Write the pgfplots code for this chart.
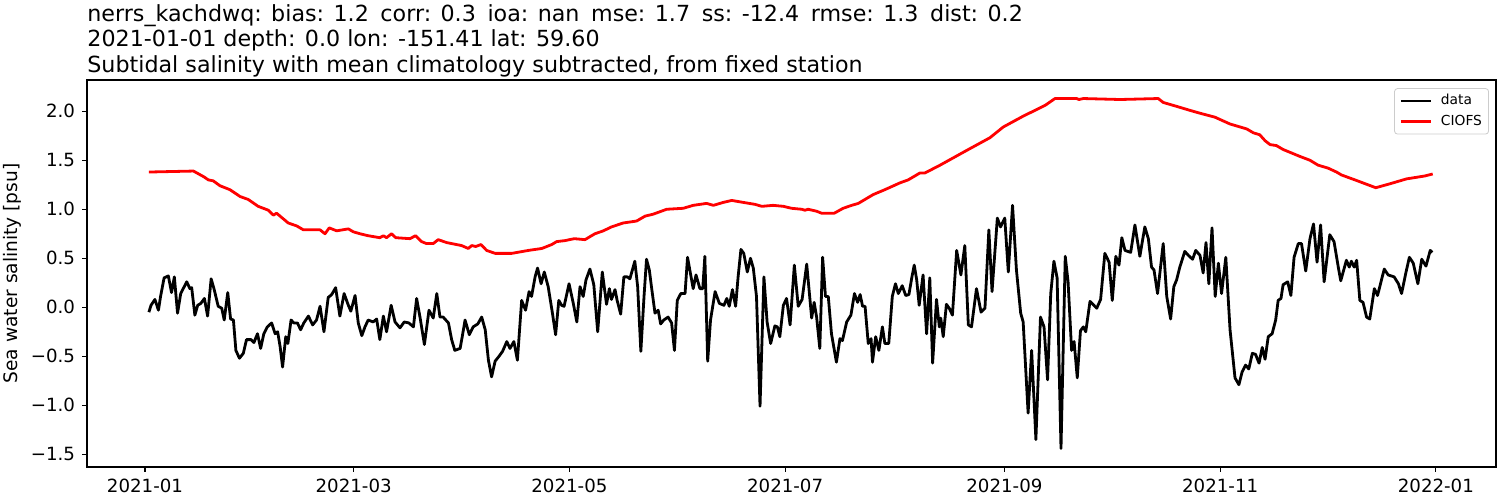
\documentclass[border=0pt]{standalone}
\usepackage{fontspec}
\setmainfont{DejaVu Sans}
\usepackage{pgfplots}
\pgfplotsset{compat=1.18}
\usepackage{pgfplotstable}

\pgfplotstableread{
day val
1.1 -0.05
1.7 0.02
2.8 0.08
3.8 -0.03
4.4 0.11
5.4 0.30
6.6 0.32
7.5 0.15
8.3 0.31
9.2 -0.06
10.1 0.14
11.8 0.26
12.7 0.19
13.2 0.20
14.1 -0.08
14.9 0.02
15.8 0.04
16.8 0.09
17.7 -0.09
18.7 0.29
19.5 0.19
20.7 0.01
21.7 -0.01
22.4 -0.13
23.4 0.15
24.2 -0.12
25.0 -0.13
25.7 -0.44
26.7 -0.52
27.8 -0.47
28.7 -0.33
30.0 -0.33
30.8 -0.36
31.8 -0.27
32.7 -0.42
33.6 -0.27
34.6 -0.20
35.8 -0.16
36.8 -0.27
37.5 -0.25
38.2 -0.40
38.9 -0.61
39.8 -0.30
40.4 -0.37
41.3 -0.13
42.1 -0.16
43.1 -0.16
44.0 -0.23
44.9 -0.16
46.2 -0.09
47.4 -0.18
48.5 -0.13
49.5 0.01
50.6 -0.25
51.8 0.10
52.8 0.13
53.9 0.20
55.1 -0.09
56.3 0.14
57.5 0.02
58.2 -0.04
59.4 0.12
60.3 -0.16
61.3 -0.29
62.2 -0.20
63.1 -0.13
64.5 -0.15
65.5 -0.12
66.4 -0.33
67.4 -0.09
68.3 -0.25
69.6 0.02
70.7 -0.15
72.1 -0.21
73.3 -0.15
74.6 -0.16
75.9 -0.20
76.8 0.09
77.8 -0.11
79.0 -0.38
80.3 -0.03
81.5 -0.11
82.5 0.14
83.4 -0.10
84.3 -0.10
85.8 -0.16
86.7 -0.33
87.6 -0.44
89.1 -0.42
89.7 -0.30
90.5 -0.13
91.7 -0.28
92.8 -0.20
94.1 -0.17
95.2 -0.10
96.2 -0.23
97.1 -0.54
98.0 -0.71
99.0 -0.55
100.1 -0.50
101.1 -0.45
102.3 -0.35
103.2 -0.42
104.3 -0.35
105.3 -0.54
106.5 0.07
107.6 -0.03
108.6 0.16
109.3 0.11
110.3 0.31
111.0 0.40
112.0 0.24
112.9 0.36
114.0 0.21
115.2 -0.06
116.1 -0.28
117.0 0.07
117.8 0.02
118.5 0.01
119.9 0.24
121.1 0.04
122.1 -0.15
123.0 0.21
123.9 0.11
124.7 0.28
125.8 0.39
126.9 0.23
128.0 -0.25
129.3 0.36
130.5 0.03
131.3 0.19
131.9 0.08
132.9 0.18
133.5 0.07
134.5 -0.07
135.4 0.31
136.4 0.31
137.1 0.29
138.5 0.47
139.3 0.21
140.2 -0.45
141.1 0.11
141.8 0.49
142.6 0.38
143.2 0.21
144.2 -0.06
145.1 -0.03
145.8 -0.17
146.7 -0.13
147.9 -0.10
148.9 -0.16
149.7 -0.44
150.5 0.07
151.5 0.14
152.7 0.14
153.4 0.51
154.3 0.33
155.0 0.19
155.8 0.33
156.9 0.19
157.7 0.19
158.3 0.52
159.1 -0.55
159.9 -0.13
161.2 0.16
162.4 0.04
163.7 0.02
164.5 0.09
165.2 0.01
166.1 0.18
167.0 0.01
167.7 0.31
168.5 0.59
169.3 0.55
170.3 0.36
171.2 0.50
172.0 0.40
172.9 0.11
173.9 -1.01
175.0 0.31
175.9 -0.15
176.9 -0.37
178.1 -0.19
178.8 -0.20
179.5 -0.30
180.5 0.02
181.4 0.09
182.4 -0.18
183.6 0.43
184.7 0.01
185.8 0.08
187.1 0.44
188.5 -0.11
189.2 0.05
189.9 -0.10
190.8 -0.42
191.6 0.51
192.4 0.11
193.2 0.11
194.1 -0.27
195.5 -0.56
196.5 -0.32
197.2 -0.34
198.4 -0.15
199.6 -0.08
200.6 0.14
201.5 0.05
202.2 0.13
202.9 0.01
203.6 0.01
204.5 -0.37
205.3 -0.32
205.7 -0.56
206.6 -0.30
207.5 -0.44
208.5 -0.20
209.2 -0.37
210.3 -0.37
211.3 0.11
212.2 0.24
213.0 0.14
214.1 0.22
215.1 0.12
216.0 0.13
216.8 0.30
217.5 0.43
218.2 0.28
218.9 0.02
220.0 0.33
221.0 -0.27
221.9 0.30
222.7 -0.57
223.8 0.08
224.6 -0.20
225.0 -0.11
225.7 -0.30
226.6 0.03
227.4 -0.01
228.3 -0.08
229.5 0.58
230.7 0.33
231.8 0.63
232.8 -0.18
233.7 -0.20
235.1 0.19
236.4 -0.05
237.5 -0.01
238.6 0.79
239.5 0.16
241.0 0.91
241.9 0.82
243.1 0.91
244.1 0.36
245.3 1.04
246.4 0.38
247.6 -0.06
248.3 -0.15
249.7 -1.08
250.7 -0.44
251.9 -1.35
253.2 -0.10
254.2 -0.20
255.2 -0.74
256.1 0.14
257.0 0.47
257.9 0.30
259.0 -1.44
260.2 0.52
261.0 0.26
262.0 -0.44
262.7 -0.35
263.6 -0.72
264.5 -0.24
265.3 -0.20
266.0 -0.25
267.2 0.06
269.1 -0.01
270.2 0.08
271.4 0.55
272.6 0.46
273.5 0.07
274.5 0.52
275.4 0.43
276.2 0.71
277.1 0.58
278.7 0.56
279.9 0.84
281.3 0.52
282.7 0.82
283.7 0.70
284.6 0.41
285.3 0.38
286.3 0.14
287.9 0.65
288.9 0.11
290.0 -0.12
290.9 0.21
291.7 0.28
292.6 0.41
294.0 0.57
295.0 0.53
296.2 0.49
297.1 0.58
298.3 0.53
299.2 0.35
300.0 0.66
300.8 0.24
301.7 0.81
302.6 0.11
303.5 0.45
304.4 0.14
305.6 0.51
306.8 -0.23
308.2 -0.72
309.3 -0.79
310.2 -0.66
311.2 -0.59
312.1 -0.63
313.1 -0.47
314.0 -0.48
315.0 -0.57
315.9 -0.41
316.7 -0.53
317.6 -0.30
318.7 -0.27
319.7 -0.13
320.4 0.07
321.2 0.09
321.8 0.23
323.1 0.26
324.0 0.12
324.9 0.51
326.1 0.65
327.0 0.65
328.2 0.37
329.4 0.70
330.4 0.85
331.4 0.46
332.4 0.84
333.4 0.26
335.0 0.74
336.2 0.67
337.4 0.41
338.1 0.27
339.7 0.48
340.5 0.41
341.1 0.47
341.9 0.41
342.6 0.48
343.5 0.07
344.4 0.05
345.4 -0.10
346.3 -0.12
347.6 0.19
348.5 0.12
350.4 0.39
351.5 0.33
353.2 0.31
354.4 0.24
355.3 0.14
356.5 0.35
357.5 0.51
358.6 0.45
359.9 0.24
361.0 0.49
362.2 0.42
363.4 0.58
364.0 0.56
}\obs

\pgfplotstableread{
day val
1.1 1.38
13.7 1.39
16.7 1.33
17.9 1.30
19.3 1.29
21.2 1.24
24.0 1.20
26.9 1.13
29.2 1.10
32.0 1.03
34.9 0.99
36.3 0.94
37.2 0.96
40.5 0.86
42.9 0.83
44.8 0.79
49.5 0.79
50.9 0.75
52.1 0.81
54.2 0.78
57.5 0.80
58.9 0.77
60.8 0.75
63.1 0.73
66.4 0.71
67.4 0.73
68.3 0.71
69.7 0.75
70.9 0.71
74.9 0.70
76.5 0.73
78.2 0.67
79.6 0.65
81.5 0.65
82.9 0.69
85.3 0.66
89.5 0.63
91.4 0.60
92.4 0.63
93.5 0.62
95.0 0.64
96.6 0.58
99.0 0.55
103.7 0.55
108.4 0.58
112.2 0.60
115.0 0.64
116.4 0.67
118.7 0.68
121.4 0.70
124.4 0.69
127.2 0.75
129.6 0.78
131.9 0.82
135.2 0.86
139.0 0.88
141.4 0.93
143.7 0.95
147.5 1.00
152.2 1.01
155.0 1.04
158.8 1.06
160.7 1.04
163.5 1.07
165.9 1.09
169.2 1.07
172.5 1.05
174.4 1.03
177.6 1.04
180.5 1.03
182.8 1.01
185.7 1.00
186.6 0.99
187.5 1.00
189.9 0.98
191.3 0.96
194.9 0.96
197.4 1.01
199.8 1.04
201.7 1.06
205.9 1.15
209.2 1.20
213.5 1.27
215.8 1.30
219.1 1.37
220.5 1.37
224.8 1.45
232.3 1.60
238.9 1.73
242.7 1.84
248.3 1.95
254.5 2.06
257.3 2.13
263.4 2.13
264.1 2.12
265.3 2.13
275.7 2.12
286.5 2.13
287.9 2.09
291.7 2.05
295.4 2.01
298.3 1.98
302.5 1.94
306.8 1.87
311.5 1.82
313.4 1.78
315.2 1.76
316.7 1.70
318.1 1.66
319.9 1.65
321.8 1.61
326.5 1.54
329.4 1.50
331.7 1.45
334.5 1.42
336.9 1.38
338.3 1.35
342.1 1.30
348.0 1.22
352.0 1.26
356.7 1.31
361.9 1.34
364.1 1.36
}\model

\newcommand{\gap}{\hspace{5.8pt}}

\begin{document}
\begin{tikzpicture}
\useasboundingbox (0,0) rectangle (750pt,250pt);
\begin{axis}[
  at={(43.5pt,16.5pt)}, anchor=south west,
  scale only axis, width=704.5pt, height=193.5pt,
  xmin=-16.4, xmax=382, ymin=-1.63, ymax=2.319,
  xtick={0,59,120,181,243,304,365},
  xticklabels={2021-01,2021-03,2021-05,2021-07,2021-09,2021-11,2022-01},
  ytick={-1.5,-1,-0.5,0,0.5,1,1.5,2},
  yticklabels={−1.5,−1.0,−0.5,0.0,0.5,1.0,1.5,2.0},
  tick pos=left, tick align=outside,
  major tick length=2.45pt,
  every tick/.style={black, line width=0.55pt},
  axis line style={line width=0.55pt},
  ticklabel style={font=\fontsize{9.1}{11}\selectfont},
  ylabel={Sea water salinity [psu]},
  ylabel style={font=\fontsize{9.3}{11}\selectfont, at={(axis description cs:-0.0461,0.5)}, anchor=south, inner sep=0pt},
  title={nerrs\_kachdwq: bias: 1.2\gap corr: 0.3\gap ioa: nan\gap mse: 1.7\gap ss: -12.4\gap rmse: 1.3\gap dist: 0.2\\2021-01-01 depth: 0.0 lon: -151.41 lat: 59.60\\Subtidal salinity with mean climatology subtracted, from fixed station},
  title style={at={(axis description cs:0,1)}, anchor=south west, align=left, inner sep=0pt, yshift=-4.7pt, font=\fontsize{11.1}{12.8}\selectfont},
  legend style={at={(0.995,0.979)}, anchor=north east, draw=black!20, rounded corners=1.5pt, fill=white, font=\fontsize{6.9}{8}\selectfont, inner xsep=2.5pt, inner ysep=1.85pt, row sep=1.7pt, column sep=3.5pt, nodes={inner xsep=0.8pt, inner ysep=1pt}},
  legend cell align=left,
  legend image code/.code={\draw[#1] (0pt,0pt) -- (15pt,0pt);},
]
\addplot[black, line width=1.4pt, line join=round] table[x=day,y=val]{\obs};
\addlegendentry{data}
\addplot[red, line width=1.4pt, line join=round] table[x=day,y=val]{\model};
\addlegendentry{CIOFS}
\end{axis}
\end{tikzpicture}
\end{document}
